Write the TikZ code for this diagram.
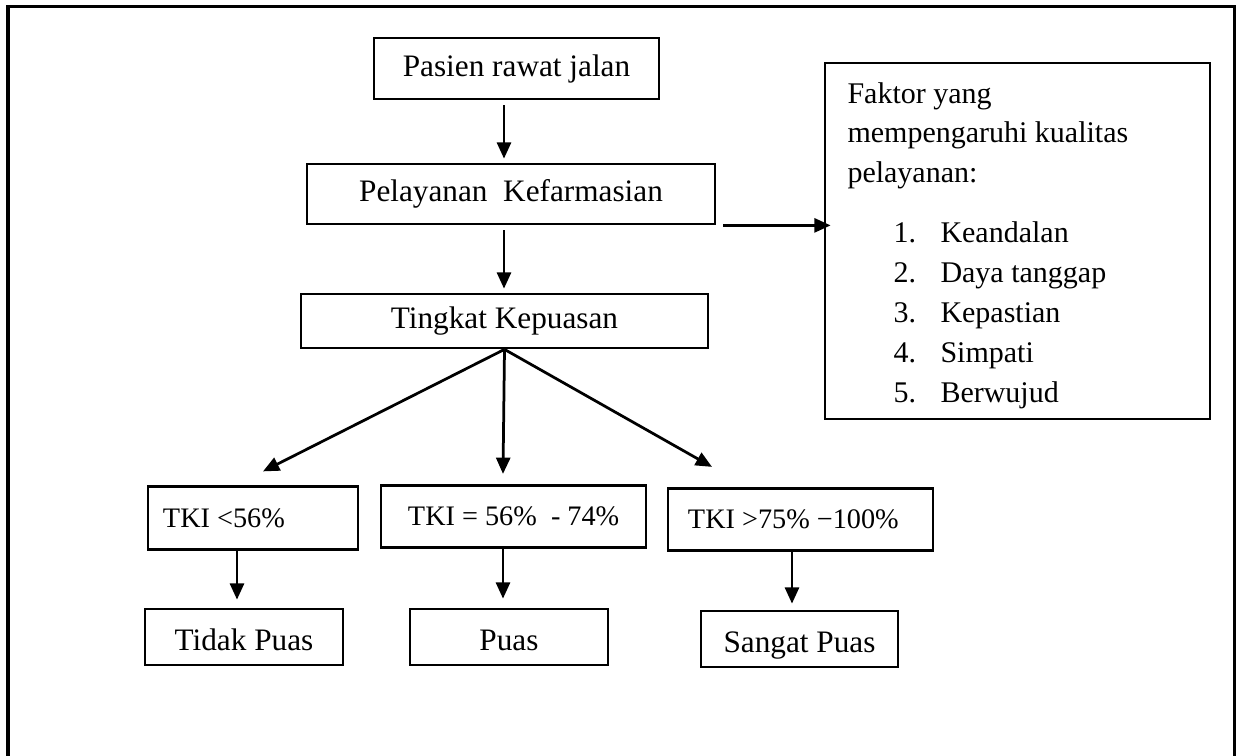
\documentclass[tikz,border=0pt]{standalone}
\usepackage{fontspec}
\setmainfont{Liberation Serif}
\usetikzlibrary{arrows.meta}
\begin{document}
\begin{tikzpicture}[x=0.4pt,y=-0.4pt,
  box/.style={draw,line width=1.1pt,inner sep=0pt,font=\fontsize{12.5}{15}\selectfont},
  endbox/.style={box,minimum height=22.4pt,text height=10.4pt,text depth=0pt},
  tkibox/.style={draw,line width=1.1pt,inner sep=0pt,minimum height=25pt,font=\fontsize{11.3}{13}\selectfont},
  arr/.style={line width=1.1pt,-{Triangle[length=6.5pt,width=5.6pt]}},
  ftxt/.style={anchor=base west,inner sep=0pt,font=\fontsize{12}{14}\selectfont}]
\useasboundingbox (0,0) rectangle (1236,755);
\draw[line width=1.2pt] (8,756) -- (8,6) -- (1234,6) -- (1234,756);
% boxes
\node[box,minimum width=114pt,minimum height=24.4pt] (b1) at (516.5,68.5) {Pasien rawat jalan};
\node[box,minimum width=163.2pt,minimum height=24pt] (b2) at (511,194) {Pelayanan\ \ Kefarmasian};
\node[box,minimum width=162.8pt,minimum height=21.6pt] (b3) at (504.5,321) {Tingkat Kepuasan};
\node[draw,line width=1.1pt,minimum width=154pt,minimum height=142.4pt,inner sep=0pt] (fk) at (1017.5,241) {};
\node[ftxt] (f1) at (847,103) {Faktor yang};
\node[ftxt] (f2) at (847,142) {mempengaruhi kualitas};
\node[ftxt] (f3) at (847,182) {pelayanan:};
\node[ftxt] (n1) at (893,242) {1.};
\node[ftxt] (i1) at (940,242) {Keandalan};
\node[ftxt] (n2) at (893,282) {2.};
\node[ftxt] (i2) at (940,282) {Daya tanggap};
\node[ftxt] (n3) at (893,322) {3.};
\node[ftxt] (i3) at (940,322) {Kepastian};
\node[ftxt] (n4) at (893,362) {4.};
\node[ftxt] (i4) at (940,362) {Simpati};
\node[ftxt] (n5) at (893,402) {5.};
\node[ftxt] (i5) at (940,402) {Berwujud};
\node[tkibox] (tA) at (253,518) {\makebox[84pt][l]{\hspace{6pt}TKI <56\%}};
\node[tkibox] (tB) at (513.5,516.5) {\makebox[106pt][l]{\hspace{10.8pt}TKI = 56\%\ \ - 74\%}};
\node[tkibox] (tC) at (800.5,519.5) {\makebox[106pt][l]{\hspace{8pt}TKI >75\% −100\%}};
\node[endbox,minimum width=79.2pt] (pA) at (244,637) {Tidak Puas};
\node[endbox,minimum width=79.2pt] (pB) at (509,637) {Puas};
\node[endbox,minimum width=78.8pt] (pC) at (799.5,639) {Sangat Puas};
% connectors
\draw[arr,shorten <=2pt,shorten >=1.6pt] ([xshift=-5pt]b1.south) -- ([xshift=-5pt]b1.south |- b2.north);
\draw[arr,shorten <=2pt,shorten >=1.6pt] ([xshift=-2.8pt]b2.south) -- ([xshift=-2.8pt]b2.south |- b3.north);
\draw[arr] ([xshift=2.8pt]b2.south east) -- ([xshift=2.8pt]b2.south east -| fk.west);
\draw[arr] (b3.south) -- ([xshift=4pt,yshift=5.6pt]tA.north);
\draw[arr] (b3.south) -- ([xshift=-4.2pt,yshift=4pt]tB.north);
\draw[arr] (b3.south) -- ([xshift=-35.4pt,yshift=8pt]tC.north);
\draw[arr,shorten >=3.2pt] ([xshift=-6.4pt]tA.south) -- ([xshift=-6.4pt]tA.south |- pA.north);
\draw[arr,shorten >=3.6pt] ([xshift=-4.2pt]tB.south) -- ([xshift=-4.2pt]tB.south |- pB.north);
\draw[arr,shorten >=2.4pt] ([xshift=-3.4pt]tC.south) -- ([xshift=-3.4pt]tC.south |- pC.north);
\end{tikzpicture}
\end{document}
